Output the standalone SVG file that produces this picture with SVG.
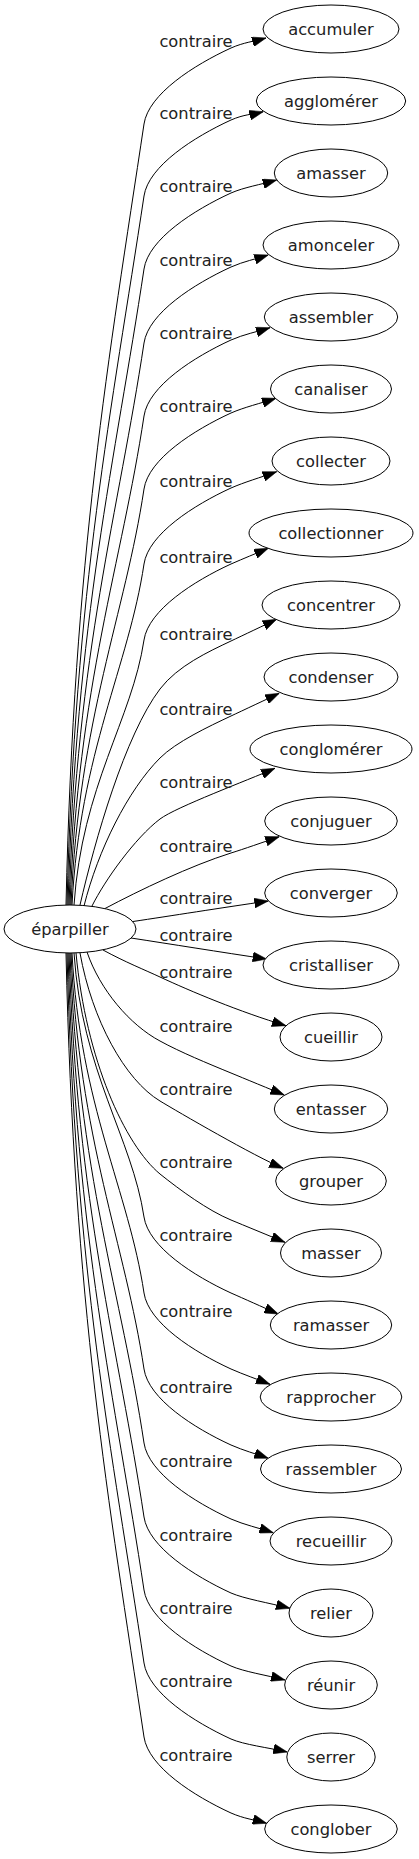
<svg xmlns="http://www.w3.org/2000/svg" width="419" height="1859" viewBox="0 0 419 1859">
<defs>
<style>
.n ellipse{fill:#fff;stroke:#000;stroke-width:1}
.n text{font-family:"DejaVu Sans",sans-serif;font-size:16.3px;fill:#222;text-anchor:middle}
#connectors path{fill:none;stroke:#000;stroke-width:1;marker-end:url(#arr)}
#connectors text{font-family:"DejaVu Sans",sans-serif;font-size:16.3px;fill:#222;text-anchor:middle}
</style>
<marker id="arr" markerUnits="userSpaceOnUse" markerWidth="14" markerHeight="10" refX="13.3" refY="4.7" orient="auto" viewBox="0 0 13.3 9.4"><path d="M0,0 L13.3,4.7 L0,9.4 z" fill="#000" stroke="#000" stroke-width="0.5"/></marker>
</defs>
<rect width="419" height="1859" fill="#fff"/>
<g id="connectors">
<path d="M66,905 C74,553.5 108.9,358.3 144,124 C148.5,94 194,65 231,48 C244,42.3 253.8,41.5 266,38"/>
<path d="M67,905 C75,586 112.1,408.7 144,196 C148.5,166 194,137 231,120 C244,114.3 252,114.6 263.3,111.7"/>
<path d="M68,905 C76,618.8 115.4,459.8 144,269 C148.5,239 194,210 231,193 C244,187.3 260.7,184.6 276.7,180"/>
<path d="M69,905 C77,652.1 118.7,511.6 144,343 C148.5,313 194,284 231,267 C244,261.3 255.2,259.2 268.3,255"/>
<path d="M70,905 C78,685 122,562.7 144,416 C148.5,386 194,357 231,340 C244,334.3 256.4,332 270,327.7"/>
<path d="M71,905 C79,717.8 125.3,613.8 144,489 C148.5,459 194,430 231,413 C244,407.3 260.3,403.4 276,398.3"/>
<path d="M72,905 C80,751.5 128.7,666.3 144,564 C148.5,534 194,505 231,488 C244,482.3 260.7,477.4 276.7,471.7"/>
<path d="M74,905 C82,785.7 132.1,719.5 144,640 C148.5,610 194,581 231,564 C244,558.3 255.2,553.8 268.3,548.3"/>
<path d="M80,905 C95,840 125,735 160,689 C177.5,666 208.4,651.7 231,641 C241.8,635.9 265.9,624.4 276.7,619.3"/>
<path d="M84,906 C98,850 128,790 160,758 C176,742 208.4,726.6 231,716 C241.9,710.9 268.4,698.4 279.3,693.3"/>
<path d="M92,906 C105,880 135,838 160,819 C176,807 247.5,780.4 275,768.3"/>
<path d="M105,908.5 C140,890 190,866 231,853 C244,849 262.4,842.4 279.3,836.7"/>
<path d="M133,921.5 C170,916 220,908 268.3,901"/>
<path d="M131,938 C170,944 220,952 266.7,959"/>
<path d="M103,950 C125,962 145,970 160,977 C190,991 240,1012 286,1025.7"/>
<path d="M87,952 C100,990 130,1025 160,1041 C180,1052 207.9,1063.5 231,1073 C242.1,1077.6 273.2,1090.4 284.3,1095"/>
<path d="M80,953 C92,1020 125,1080 160,1101 C177,1111.3 255.5,1157 283.3,1168.3"/>
<path d="M76,953 C86,1060 125,1145 160,1174 C180,1190 207.9,1210.5 231,1220 C242.1,1224.6 273.9,1237.7 285,1242.3"/>
<path d="M74,953 C82,1071.8 132.1,1137.8 144,1217 C148.5,1247 194,1276 231,1293 C244,1298.7 261.7,1306.7 278.3,1314"/>
<path d="M72,953 C80,1106 128.7,1191 144,1293 C148.5,1323 194,1352 231,1369 C244,1374.7 256.4,1378.9 270,1384.3"/>
<path d="M71,953 C79,1140.2 125.3,1244.2 144,1369 C148.5,1399 194,1428 231,1445 C244,1450.7 255.2,1453.6 268.3,1458.3"/>
<path d="M70,953 C78,1173.5 122,1296 144,1443 C148.5,1473 194,1502 231,1519 C244,1524.7 258.5,1527.9 273.3,1532.7"/>
<path d="M69,953 C77,1206.8 118.6,1347.8 144,1517 C148.5,1547 194,1576 231,1593 C244,1598.7 269.4,1603 290,1608.3"/>
<path d="M68,953 C76,1239.7 115.3,1398.9 144,1590 C148.5,1620 194,1649 231,1666 C244,1671.7 266.1,1675.1 285,1680"/>
<path d="M67,953 C75,1272.5 112,1450 144,1663 C148.5,1693 194,1722 231,1739 C244,1744.7 267.6,1747.5 287.3,1752"/>
<path d="M66,953 C74,1305.8 108.7,1501.8 144,1737 C148.5,1767 194,1796 231,1813 C244,1818.7 254.2,1819.7 266.7,1823.3"/>
<text x="196" y="47">contraire</text>
<text x="196" y="119">contraire</text>
<text x="196" y="192">contraire</text>
<text x="196" y="266">contraire</text>
<text x="196" y="339">contraire</text>
<text x="196" y="412">contraire</text>
<text x="196" y="487">contraire</text>
<text x="196" y="563">contraire</text>
<text x="196" y="640">contraire</text>
<text x="196" y="715">contraire</text>
<text x="196" y="788">contraire</text>
<text x="196" y="852">contraire</text>
<text x="196" y="904">contraire</text>
<text x="196" y="941">contraire</text>
<text x="196" y="978">contraire</text>
<text x="196" y="1032">contraire</text>
<text x="196" y="1095">contraire</text>
<text x="196" y="1168">contraire</text>
<text x="196" y="1241">contraire</text>
<text x="196" y="1317">contraire</text>
<text x="196" y="1393">contraire</text>
<text x="196" y="1467">contraire</text>
<text x="196" y="1541">contraire</text>
<text x="196" y="1614">contraire</text>
<text x="196" y="1687">contraire</text>
<text x="196" y="1761">contraire</text>
</g>
<g id="node-eparpiller" class="n"><ellipse cx="70" cy="929" rx="66" ry="24"/><text x="70" y="935">éparpiller</text></g>
<g id="node-accumuler" class="n"><ellipse cx="331" cy="29" rx="68" ry="24"/><text x="331" y="35">accumuler</text></g>
<g id="node-agglomerer" class="n"><ellipse cx="331" cy="101" rx="74.7" ry="24"/><text x="331" y="107">agglomérer</text></g>
<g id="node-amasser" class="n"><ellipse cx="331" cy="173" rx="56.7" ry="24"/><text x="331" y="179">amasser</text></g>
<g id="node-amonceler" class="n"><ellipse cx="331" cy="245" rx="68" ry="24"/><text x="331" y="251">amonceler</text></g>
<g id="node-assembler" class="n"><ellipse cx="331" cy="317" rx="66.7" ry="24"/><text x="331" y="323">assembler</text></g>
<g id="node-canaliser" class="n"><ellipse cx="331" cy="389" rx="60.5" ry="24"/><text x="331" y="395">canaliser</text></g>
<g id="node-collecter" class="n"><ellipse cx="331" cy="461" rx="59" ry="24"/><text x="331" y="467">collecter</text></g>
<g id="node-collectionner" class="n"><ellipse cx="331" cy="533" rx="82" ry="24"/><text x="331" y="539">collectionner</text></g>
<g id="node-concentrer" class="n"><ellipse cx="331" cy="605" rx="69" ry="24"/><text x="331" y="611">concentrer</text></g>
<g id="node-condenser" class="n"><ellipse cx="331" cy="677" rx="67" ry="24"/><text x="331" y="683">condenser</text></g>
<g id="node-conglomerer" class="n"><ellipse cx="331" cy="749" rx="81" ry="24"/><text x="331" y="755">conglomérer</text></g>
<g id="node-conjuguer" class="n"><ellipse cx="331" cy="821" rx="66.3" ry="24"/><text x="331" y="827">conjuguer</text></g>
<g id="node-converger" class="n"><ellipse cx="331" cy="893" rx="66.3" ry="24"/><text x="331" y="899">converger</text></g>
<g id="node-cristalliser" class="n"><ellipse cx="331" cy="965" rx="68" ry="24"/><text x="331" y="971">cristalliser</text></g>
<g id="node-cueillir" class="n"><ellipse cx="331" cy="1037" rx="51" ry="24"/><text x="331" y="1043">cueillir</text></g>
<g id="node-entasser" class="n"><ellipse cx="331" cy="1109" rx="56.7" ry="24"/><text x="331" y="1115">entasser</text></g>
<g id="node-grouper" class="n"><ellipse cx="331" cy="1181" rx="55.3" ry="24"/><text x="331" y="1187">grouper</text></g>
<g id="node-masser" class="n"><ellipse cx="331" cy="1253" rx="50.5" ry="24"/><text x="331" y="1259">masser</text></g>
<g id="node-ramasser" class="n"><ellipse cx="331" cy="1325" rx="60.7" ry="24"/><text x="331" y="1331">ramasser</text></g>
<g id="node-rapprocher" class="n"><ellipse cx="331" cy="1397" rx="70.8" ry="24"/><text x="331" y="1403">rapprocher</text></g>
<g id="node-rassembler" class="n"><ellipse cx="331" cy="1469" rx="70.5" ry="24"/><text x="331" y="1475">rassembler</text></g>
<g id="node-recueillir" class="n"><ellipse cx="331" cy="1541" rx="61" ry="24"/><text x="331" y="1547">recueillir</text></g>
<g id="node-relier" class="n"><ellipse cx="331" cy="1613" rx="42" ry="24"/><text x="331" y="1619">relier</text></g>
<g id="node-reunir" class="n"><ellipse cx="331" cy="1685" rx="46.3" ry="24"/><text x="331" y="1691">réunir</text></g>
<g id="node-serrer" class="n"><ellipse cx="331" cy="1757" rx="44.2" ry="24"/><text x="331" y="1763">serrer</text></g>
<g id="node-conglober" class="n"><ellipse cx="331" cy="1829" rx="66.3" ry="24"/><text x="331" y="1835">conglober</text></g>
</svg>
